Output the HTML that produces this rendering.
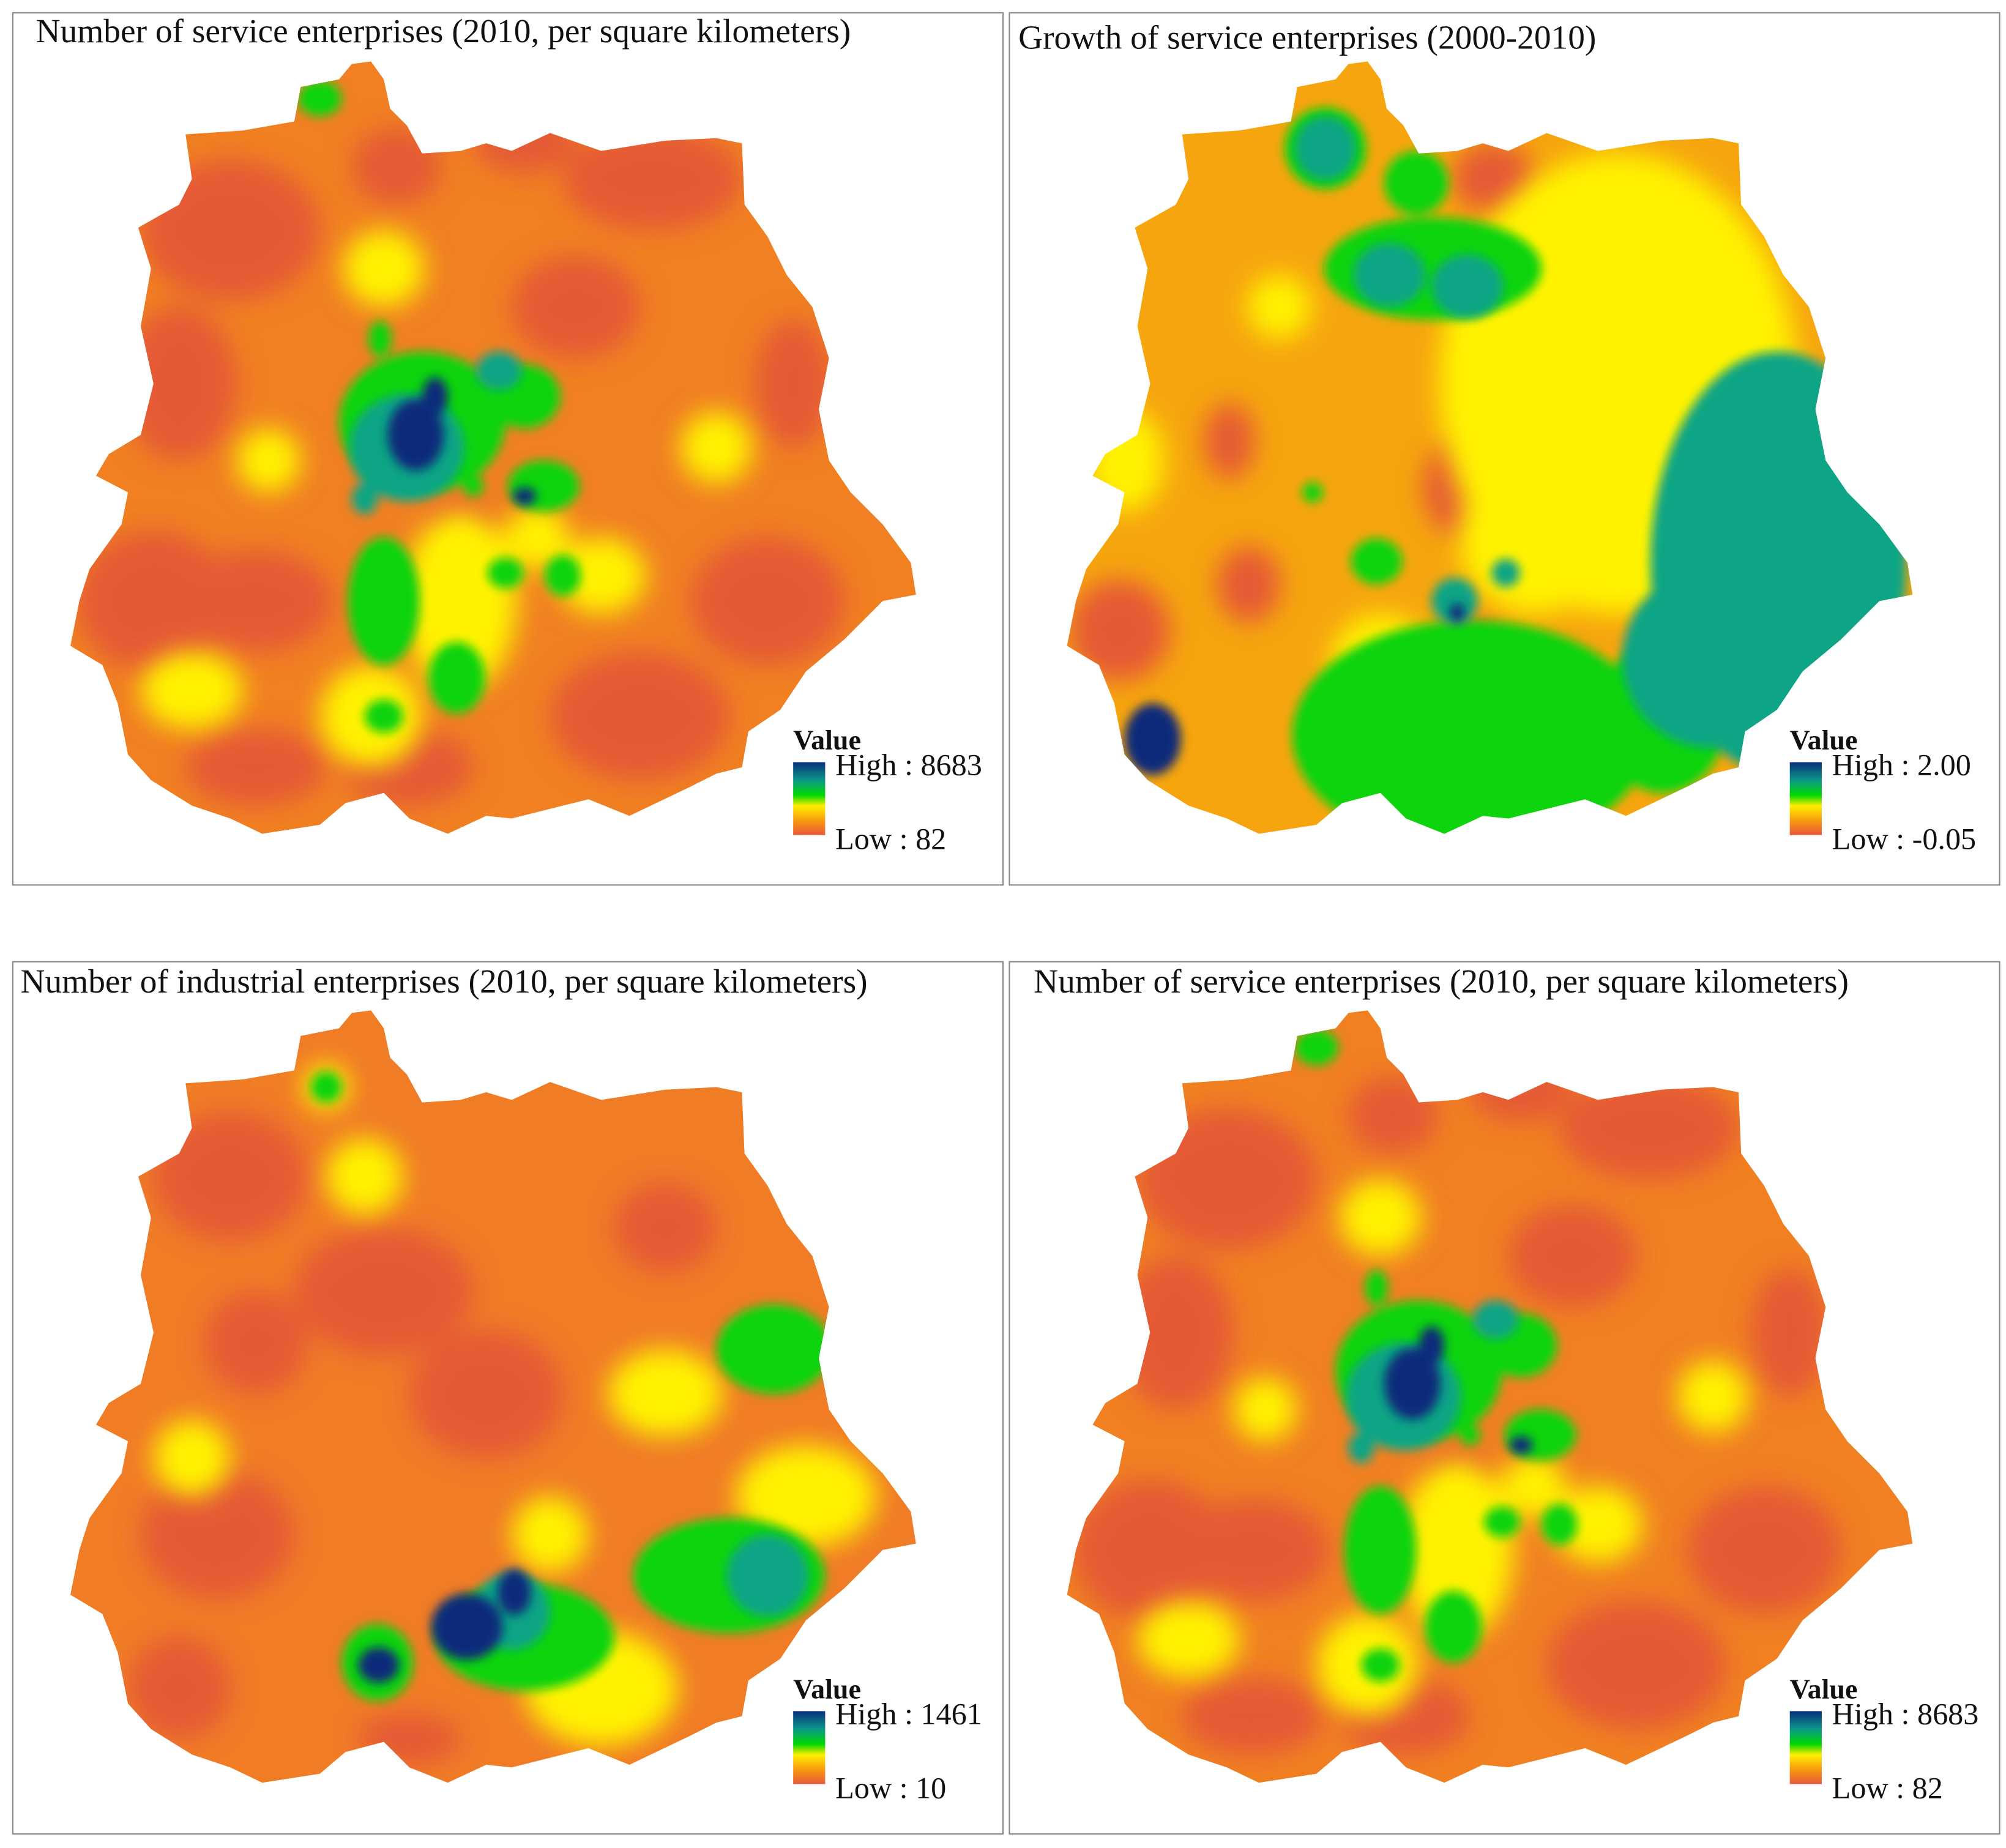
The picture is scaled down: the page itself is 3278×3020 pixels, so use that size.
<!DOCTYPE html>
<html><head><meta charset="utf-8"><style>
html,body{margin:0;padding:0;background:#fff;}
svg{display:block;}
text{font-family:"Liberation Serif",serif;}
</style></head><body>
<svg id="fig" xmlns="http://www.w3.org/2000/svg" width="3278" height="3020" viewBox="0 0 1568 1445" preserveAspectRatio="none">
<defs>
<filter id="blur8" x="-50%" y="-50%" width="200%" height="200%"><feGaussianBlur stdDeviation="10"/></filter>
<filter id="blur4" x="-50%" y="-50%" width="200%" height="200%"><feGaussianBlur stdDeviation="4"/></filter>
<linearGradient id="legGrad" x1="0" y1="0" x2="0" y2="1">
<stop offset="0" stop-color="#0a2d7a"/><stop offset="0.25" stop-color="#0b9a8a"/><stop offset="0.45" stop-color="#00d800"/><stop offset="0.6" stop-color="#ffee00"/><stop offset="0.8" stop-color="#f89a10"/><stop offset="1" stop-color="#e8583a"/>
</linearGradient>
</defs>
<g id="root"></g>
</svg>
<script>
// Map outline (in top-left panel coordinates)
const outline = [[290,48],[300,62],[305,85],[318,98],[330,120],[360,118],[380,112],[400,118],[430,104],[470,118],[520,110],[560,108],[580,112],[582,160],[600,185],[615,215],[635,240],[648,280],[640,320],[648,360],[665,385],[690,410],[712,440],[716,465],[690,470],[660,500],[630,525],[610,555],[585,572],[580,600],[560,605],[540,615],[492,638],[460,625],[440,630],[400,640],[380,638],[350,652],[320,640],[300,620],[270,628],[250,645],[205,652],[180,640],[150,630],[118,610],[100,590],[92,550],[80,520],[55,505],[62,470],[70,445],[95,410],[100,385],[75,372],[85,355],[110,340],[120,300],[110,255],[118,210],[108,178],[140,160],[150,140],[145,105],[190,102],[230,95],[235,68],[265,62],[275,50]];
// Value patches: [cx, cy, rx, ry, class]
const patchesServiceA = [
 [180,180,70,55,'r'],[140,300,45,60,'r'],[120,470,60,55,'r'],[200,470,60,40,'r'],[510,140,70,40,'r'],[450,240,50,40,'r'],[620,300,30,50,'r'],[600,470,60,50,'r'],[200,600,55,30,'r'],[320,600,50,30,'r'],[500,560,70,50,'r'],[310,130,35,30,'r'],[410,110,40,25,'r'],[380,480,15,25,'r'],[360,410,25,20,'r'],
 [300,210,32,30,'y'],[470,450,35,30,'y'],[560,350,28,28,'y'],[290,560,40,40,'y'],[150,540,40,30,'y'],[210,360,25,25,'y'],[360,470,45,70,'y'],[420,420,25,25,'y'],
 [330,330,65,55,'g'],[300,470,28,50,'g'],[357,530,22,28,'g'],[410,310,28,25,'g'],[425,380,28,20,'g'],[440,450,14,16,'g'],[395,448,14,12,'g'],[297,265,9,14,'g'],[250,77,17,14,'g'],[300,560,15,13,'g'],[370,380,8,8,'g'],
 [318,350,45,42,'t'],[390,290,18,15,'t'],[285,390,10,12,'t'],
 [325,340,22,28,'n'],[340,310,10,15,'n'],[410,388,9,7,'n']
];
const patchesGrowth = [
 [1265,300,140,180,'y'],[1200,420,60,60,'y'],[880,360,30,40,'y'],[1000,240,25,25,'y'],[1080,520,40,40,'y'],
 [1167,139,32,28,'r'],[961,345,20,30,'r'],[976,457,25,30,'r'],[875,493,40,40,'r'],[1147,381,35,40,'r'],[1157,497,10,14,'r'],
 [1150,575,140,90,'g'],[1076,439,20,18,'g'],[1026,385,8,8,'g'],[1120,210,85,40,'g'],[1107,143,25,25,'g'],[1036,116,32,32,'g'],[1300,560,50,60,'g'],
 [1390,440,100,165,'t'],[1338,515,70,70,'t'],[1036,116,24,25,'t'],[1086,215,28,25,'t'],[1147,224,28,25,'t'],[1137,470,18,18,'t'],[1177,448,11,11,'t'],
 [901,578,22,28,'n'],[1139,479,6,7,'n']
];
const patchesIndustrial = [
 [180,920,60,50,'r'],[300,1010,70,50,'r'],[380,1090,60,50,'r'],[170,1200,60,50,'r'],[520,960,40,35,'r'],[200,1050,40,40,'r'],[320,1360,40,20,'r'],[520,1100,30,25,'r'],[140,1320,40,40,'r'],
 [255,850,18,18,'y'],[285,920,30,30,'y'],[520,1090,45,35,'y'],[630,1170,55,40,'y'],[470,1320,60,45,'y'],[150,1140,30,30,'y'],[430,1200,30,30,'y'],
 [605,1055,45,35,'g'],[570,1232,75,45,'g'],[410,1280,70,42,'g'],[295,1300,28,30,'g'],[255,850,12,12,'g'],
 [600,1232,32,32,'t'],[400,1260,30,30,'t'],
 [365,1272,28,26,'n'],[402,1245,13,18,'n'],[296,1302,16,14,'n']
];
const panelTitles = ["Number of service enterprises (2010, per square kilometers)","Growth of service enterprises (2000-2010)","Number of industrial enterprises (2010, per square kilometers)","Number of service enterprises (2010, per square kilometers)"];
const legendHigh = ["8683","2.00","1461","8683"];
const legendLow = ["82","-0.05","10","82"];
const baseColors = ["#f08022","#f6a50e","#f07c26","#f08022"];
const colorMap = {r:'#e55a34',y:'#fff200',g:'#10d410',t:'#0fa585',n:'#072c7a'};

const NS="http://www.w3.org/2000/svg";
const root=document.getElementById('root');
function mk(tag,attrs,parent){const e=document.createElementNS(NS,tag);for(const k in attrs)e.setAttribute(k,attrs[k]);parent.appendChild(e);return e;}
const panels=[{x:10,y:10,dx:0,dy:0,tx:28,ty:33,patches:patchesServiceA,pdx:0,pdy:0},
 {x:789,y:10,dx:779,dy:0,tx:796,ty:38,patches:patchesGrowth,pdx:0,pdy:0},
 {x:10,y:752,dx:0,dy:742,tx:16,ty:776,patches:patchesIndustrial,pdx:0,pdy:0},
 {x:789,y:752,dx:779,dy:742,tx:808,ty:776,patches:patchesServiceA,pdx:779,pdy:742}];
panels.forEach((p,i)=>{
 const g=mk('g',{},root);
 
 
 const frame=mk('rect',{x:p.x,y:p.y,width:774,height:682,fill:'#fff',stroke:'#888','stroke-width':1},g);
 
 
 const pts=outline.map(q=>(q[0]+p.dx)+','+(q[1]+p.dy)).join(' ');
 const cp=mk('clipPath',{id:'clip'+i},g);
 mk('polygon',{points:pts},cp);
 const mg=mk('g',{'clip-path':'url(#clip'+i+')'},g);
 
 
 const base=mk('polygon',{points:pts,fill:baseColors[i]},mg);
 
 
 const order=['r','y','g','t','n'];
 order.forEach(c=>{
  const lg=mk('g',{filter:(c==='r'||c==='y')?'url(#blur8)':'url(#blur4)'},mg);
  p.patches.filter(b=>b[4]===c).forEach(b=>{
   const e=mk('ellipse',{cx:b[0]+p.pdx,cy:b[1]+p.pdy,rx:b[2],ry:b[3],fill:colorMap[c]},lg);
   
   
  });
 });
 const t=mk('text',{x:p.tx,y:p.ty,'font-size':26.5,fill:'#111'},g);
 t.textContent=panelTitles[i];
 
 
 const lx=p.x+610, ly=p.y+576;
 const lv=mk('text',{x:lx,y:ly,'font-size':22,'font-weight':'bold',fill:'#111'},g);
 lv.textContent='Value';
 
 
 const bar=mk('rect',{x:lx,y:ly+10,width:25,height:57,fill:'url(#legGrad)'},g);
 
 
 const hi=mk('text',{x:lx+33,y:ly+20,'font-size':24,fill:'#111'},g);
 hi.textContent='High : '+legendHigh[i];
 
 
 const lo=mk('text',{x:lx+33,y:ly+78,'font-size':24,fill:'#111'},g);
 lo.textContent='Low : '+legendLow[i];
 
 
});
</script>
</body></html>
